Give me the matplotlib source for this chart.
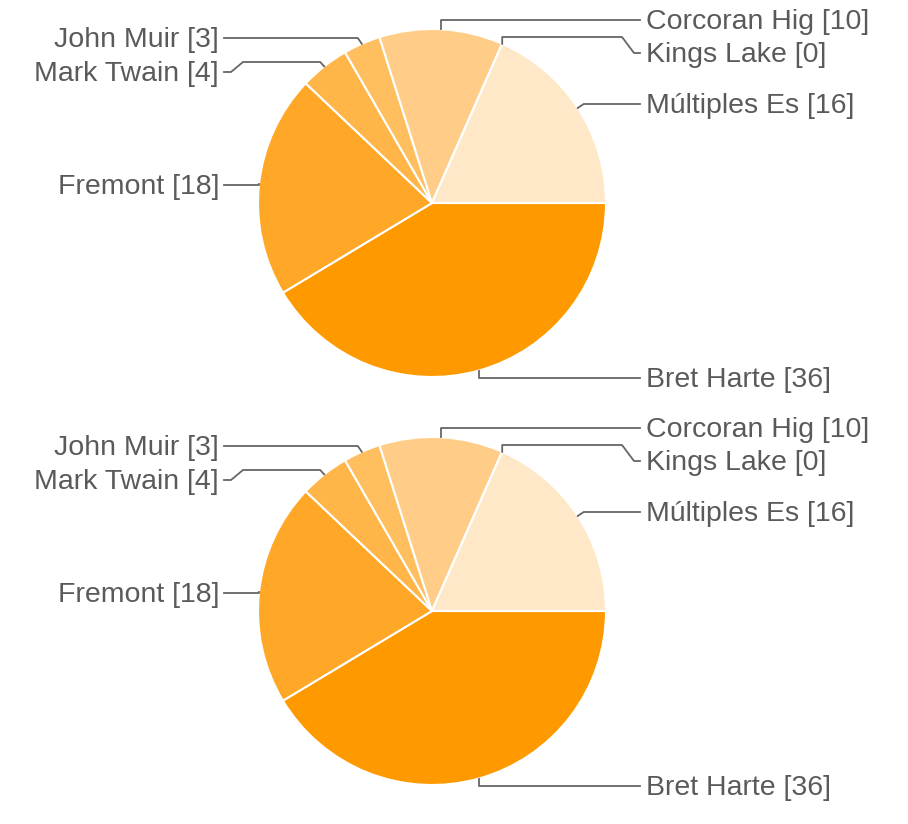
import matplotlib.pyplot as plt
import numpy as np

labels = ['Bret Harte', 'Fremont', 'Mark Twain', 'John Muir',
          'Corcoran Hig', 'Kings Lake', 'Múltiples Es']
values = [36, 18, 4, 3, 10, 0, 16]
colors = ['#FF9900', '#FFA726', '#FFB548', '#FFBF5F',
          '#FFCD88', '#FFD9A3', '#FFE8C8']

# layout (pixel offsets from pie centre, y down): leader line y and text y
line_y = {'Bret Harte': 175, 'Fremont': -18, 'Mark Twain': -141, 'John Muir': -165,
          'Corcoran Hig': -183, 'Kings Lake': -166, 'Múltiples Es': -99}
text_y = {'Bret Harte': 175, 'Fremont': -18, 'Mark Twain': -131, 'John Muir': -165,
          'Corcoran Hig': -183, 'Kings Lake': -150, 'Múltiples Es': -99}

W, H = 908, 824
fig = plt.figure(figsize=(W / 100, H / 100), dpi=100)
ax = fig.add_axes([0, 0, 1, 1])

R = 174
cx = 432
grey = '#666666'
txt = '#5a5a5a'


def draw_pie(cy_top):
    cy = H - cy_top
    wedges, _ = ax.pie(values, colors=colors, startangle=0, counterclock=False,
                       radius=R, center=(cx, cy), frame=True,
                       wedgeprops=dict(edgecolor='white', linewidth=1.5))
    for w, lab, v in zip(wedges, labels, values):
        mid = np.deg2rad((w.theta1 + w.theta2) / 2)
        px = cx + R * np.cos(mid)
        py = cy + R * np.sin(mid)
        ly = cy - line_y[lab]
        ty = cy - text_y[lab]
        right = np.cos(mid) >= 0
        if right:
            tx = 646
            kx = px + (6 if lab == 'Múltiples Es' else 0)
            xs = [px, kx, tx - 24, tx - 12, tx - 6]
        else:
            tx = 219
            kx = px - (4 if lab != 'Fremont' else 0)
            xs = [px, kx, tx + 24, tx + 12, tx + 5]
        ys = [py, ly, ly, ty, ty]
        ax.plot(xs, ys, color=grey, lw=1.3, solid_joinstyle='round')
        ax.text(tx, ty - 2, f'{lab} [{v}]', ha='left' if right else 'right',
                va='center', fontsize=20.5, color=txt, family='Liberation Sans')


draw_pie(203)
draw_pie(611)
ax.set_xlim(0, W)
ax.set_ylim(0, H)
ax.set_aspect('equal')
ax.axis('off')

fig.savefig('out.png', dpi=100)
